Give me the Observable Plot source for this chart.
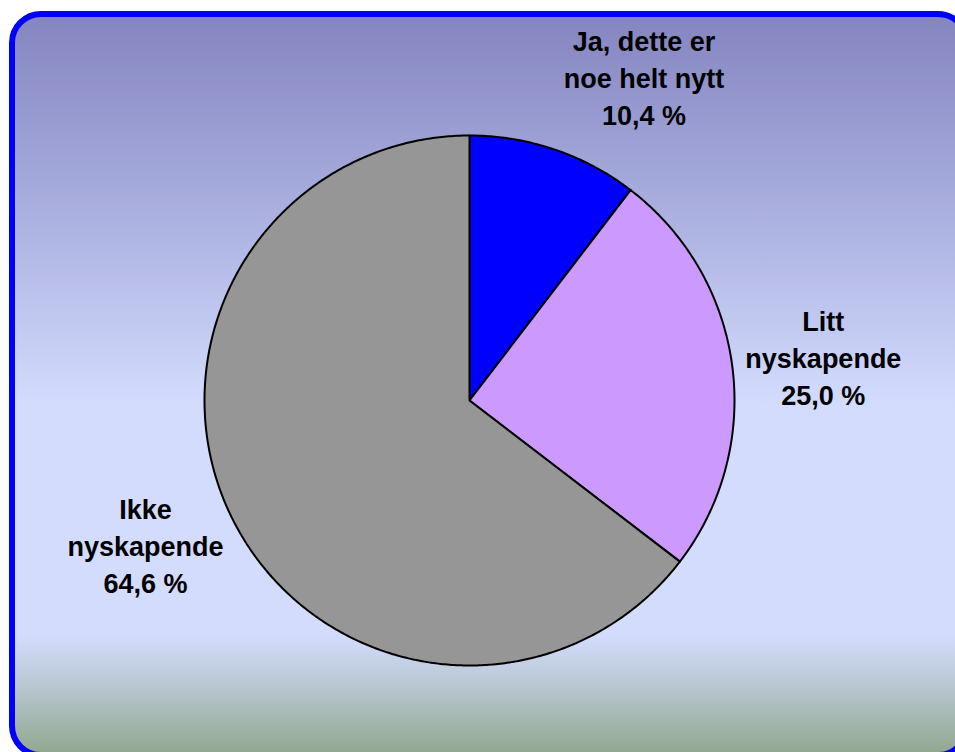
<!DOCTYPE html>
<html>
<head>
<meta charset="utf-8">
<script src="https://cdn.jsdelivr.net/npm/d3@7"></script>
<script src="https://cdn.jsdelivr.net/npm/@observablehq/plot@0.6"></script>
<style>
  html, body { margin: 0; padding: 0; background: #fff; }
  #wrap { position: relative; width: 955px; height: 752px; overflow: hidden; }
  #frame {
    position: absolute; left: 9px; top: 11px; width: 949px; height: 735px;
    border: 6px solid #0000ff; border-radius: 32px;
    background: linear-gradient(to bottom, #8585c0 0%, #a3a8da 22%, #d4dcfe 53%, #d4dcfe 84%, #bccad8 90%, #93a891 100%);
  }
  #chart { position: absolute; left: 0; top: 0; width: 955px; height: 752px; }
</style>
</head>
<body>
<div id="wrap">
<div id="frame"></div>
<div id="chart"></div>
</div>
<script>
const categories = ["Ja, dette er\nnoe helt nytt", "Litt\nnyskapende", "Ikke\nnyskapende"];
const values = [10.4, 25.0, 64.6];
const colors = ["#0000ff", "#cc99ff", "#969696"];

const fmt = v => v.toFixed(1).replace(".", ",") + " %";

const cx = 469, cy = 400, R = 265;
const pie = d3.pie().sort(null).value(d => d.value)(
  categories.map((c, i) => ({category: c, value: values[i], color: colors[i]}))
);

// arc geometry (unit circle coordinates), angle measured clockwise from 12 o'clock
const polys = [];
pie.forEach(s => {
  const n = Math.max(8, Math.ceil((s.endAngle - s.startAngle) / (Math.PI / 360)));
  polys.push({slice: s.data.category, color: s.data.color, x: 0, y: 0});
  for (let k = 0; k <= n; k++) {
    const a = s.startAngle + (s.endAngle - s.startAngle) * k / n;
    polys.push({slice: s.data.category, color: s.data.color, x: Math.sin(a), y: Math.cos(a)});
  }
  polys.push({slice: s.data.category, color: s.data.color, x: 0, y: 0});
});

// label placement: outside each slice at its mid-angle, with small layout nudges (pixels)
const labelR = 1.347;
const nudgePx = [[60, 14], [0, 3], [-4, -14]];
const labels = pie.map((s, i) => {
  const a = (s.startAngle + s.endAngle) / 2;
  return {
    text: s.data.category + "\n" + fmt(s.data.value),
    x: labelR * Math.sin(a) + nudgePx[i][0] / R,
    y: labelR * Math.cos(a) - nudgePx[i][1] / R
  };
});

const chart = Plot.plot({
  width: 955,
  height: 752,
  margin: 0,
  style: {background: "transparent", overflow: "visible"},
  x: {domain: [-1, 1], range: [cx - R, cx + R], axis: null},
  y: {domain: [-1, 1], range: [cy + R, cy - R], axis: null},
  color: {type: "identity"},
  marks: [
    Plot.line(polys, {x: "x", y: "y", z: "slice", fill: "color", stroke: "#000", strokeWidth: 2, strokeLinejoin: "round", curve: "linear-closed"}),
    Plot.text(labels, {x: "x", y: "y", text: "text", fontSize: 27, fontWeight: "bold", fontFamily: "Liberation Sans, Arial, sans-serif", fill: "#000", lineHeight: 1.37})
  ]
});
document.getElementById("chart").appendChild(chart);
</script>
</body>
</html>
